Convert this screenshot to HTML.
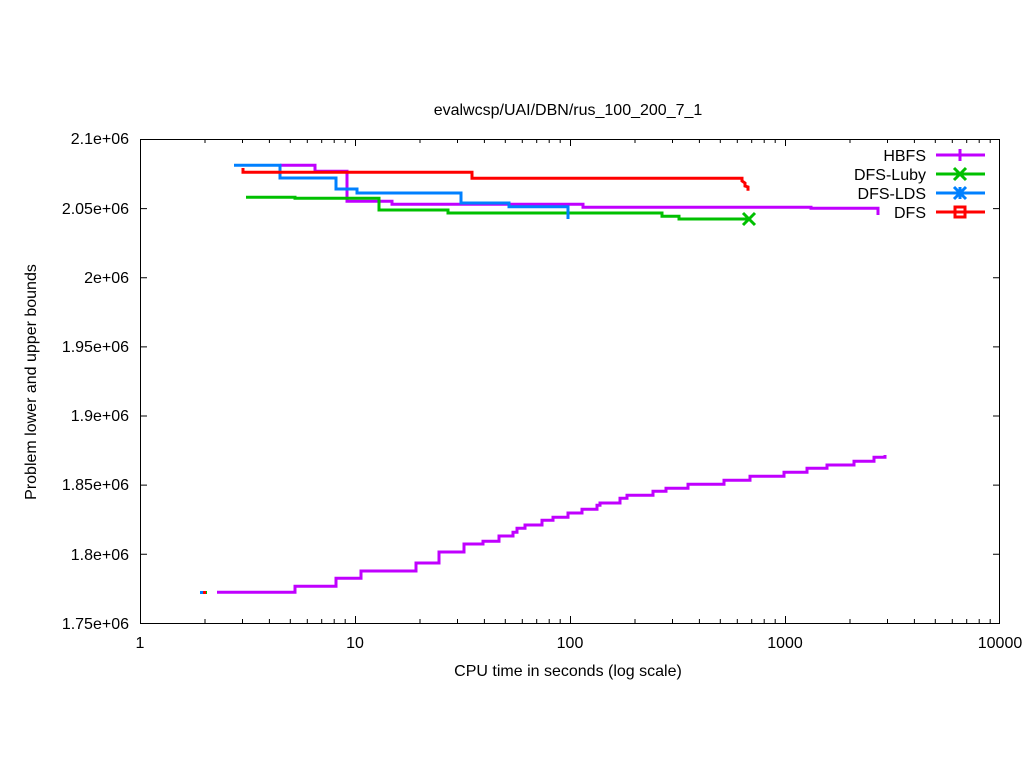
<!DOCTYPE html>
<html><head><meta charset="utf-8"><style>
html,body{margin:0;padding:0;background:#fff;}
svg{display:block;font-family:"Liberation Sans",sans-serif;}
</style></head><body>
<svg width="1024" height="768" viewBox="0 0 1024 768" xmlns="http://www.w3.org/2000/svg">
<rect width="1024" height="768" fill="#fff"/>
<text x="568" y="115" font-size="16" text-anchor="middle">evalwcsp/UAI/DBN/rus_100_200_7_1</text>
<g stroke="#000" stroke-width="1" fill="none">
<rect x="140.5" y="139.5" width="859" height="484"/>
<path d="M140 208.6h7M1000 208.6h-7M140 277.7h7M1000 277.7h-7M140 346.9h7M1000 346.9h-7M140 416h7M1000 416h-7M140 485.1h7M1000 485.1h-7M140 554.3h7M1000 554.3h-7M355.5 623v-7M355.5 139v7M570.5 623v-7M570.5 139v7M785.5 623v-7M785.5 139v7"/>
<path d="M205 623v-4M242.5 623v-4M269.4 623v-4M290.3 623v-4M307.3 623v-4M321.7 623v-4M334.2 623v-4M345.2 623v-4M420 623v-4M457.5 623v-4M484.4 623v-4M505.3 623v-4M522.3 623v-4M536.7 623v-4M549.2 623v-4M560.2 623v-4M635 623v-4M672.5 623v-4M699.4 623v-4M720.3 623v-4M737.3 623v-4M751.7 623v-4M764.2 623v-4M775.2 623v-4M850 623v-4M887.5 623v-4M914.4 623v-4M935.3 623v-4M952.3 623v-4M966.7 623v-4M979.2 623v-4M990.2 623v-4
M205 139v4M242.5 139v4M269.4 139v4M290.3 139v4M307.3 139v4M321.7 139v4M334.2 139v4M345.2 139v4M420 139v4M457.5 139v4M484.4 139v4M505.3 139v4M522.3 139v4M536.7 139v4M549.2 139v4M560.2 139v4M635 139v4M672.5 139v4M699.4 139v4M720.3 139v4M737.3 139v4M751.7 139v4M764.2 139v4M775.2 139v4M850 139v4M887.5 139v4M914.4 139v4M935.3 139v4M952.3 139v4M966.7 139v4M979.2 139v4M990.2 139v4"/>
</g>
<g font-size="16" text-anchor="end">
<text x="129" y="144">2.1e+06</text>
<text x="129" y="214">2.05e+06</text>
<text x="129" y="283">2e+06</text>
<text x="129" y="352">1.95e+06</text>
<text x="129" y="421">1.9e+06</text>
<text x="129" y="490">1.85e+06</text>
<text x="129" y="560">1.8e+06</text>
<text x="129" y="629">1.75e+06</text>
</g>
<g font-size="16" text-anchor="middle">
<text x="140" y="648">1</text>
<text x="355" y="648">10</text>
<text x="570" y="648">100</text>
<text x="785" y="648">1000</text>
<text x="1000" y="648">10000</text>
<text x="568" y="676">CPU time in seconds (log scale)</text>
<text transform="translate(36,382) rotate(-90)">Problem lower and upper bounds</text>
</g>
<g fill="none" stroke-width="3">
<path stroke="#c000ff" d="M280 165.3H315V171.3H347V201.3H392V204.3H583V207.3H811V208.3H878V215"/>
<path stroke="#c000ff" d="M217 592.3H295V586.3H336V578.3H361V571H416V563H439V552H464V544H483V541.3H499V536H513V532.3H517V528.3H525V525H542V520.3H553V517.3H568V513H582V509.3H597V505.3H600V503H620V498.3H627V495.3H653V491.3H666V488.3H688V484.3H724V480.3H750V476.3H784V472.3H807V468.3H827V465H854V461.3H874V457.3H885V455"/>
<path stroke="#00c000" d="M246 197.3H295V198.3H379V210H448V213H662V216.3H679V219H749"/>
<path stroke="#0080ff" d="M234 165.3H280V178H336V189H357V193H461V203H509V206.7H568V219"/>
<path stroke="#ff0000" d="M243 168V172.3H472V178.3H742V181L745 183V186L748 187V190.7"/>
</g>
<rect x="200" y="591" width="3" height="3" fill="#0080ff"/>
<rect x="203" y="591" width="3" height="3" fill="#ff0000"/>
<rect x="206" y="591" width="1" height="3" fill="#00c000"/>
<path d="M743 213l12 12M755 213l-12 12" stroke="#00c000" stroke-width="3"/>
<g font-size="16" text-anchor="end">
<text x="926" y="161">HBFS</text>
<text x="926" y="180">DFS-Luby</text>
<text x="926" y="199">DFS-LDS</text>
<text x="926" y="218">DFS</text>
</g>
<g fill="none" stroke-width="3">
<path stroke="#c000ff" d="M936 155H985M960 149V161"/>
<path stroke="#00c000" d="M936 174H985M954 168l12 12M966 168l-12 12"/>
<path stroke="#0080ff" d="M936 193H985M954 187l12 12M966 187l-12 12M960 187v12M954 193h12"/>
<path stroke="#ff0000" d="M936 212H985"/>
<rect x="955" y="207" width="10" height="10" stroke="#ff0000"/>
</g>
</svg>
</body></html>
